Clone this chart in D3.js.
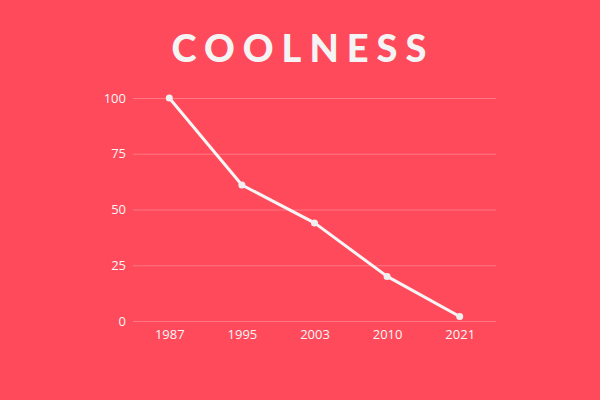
<!DOCTYPE html>
<html><head><meta charset="utf-8">
<script src="https://cdn.jsdelivr.net/npm/d3@7"></script>
<style>html,body{margin:0;padding:0;background:#FF4A5B;}</style>
</head><body>
<svg id="c" width="600" height="400"></svg>
<script>
const years = ["1987","1995","2003","2010","2021"];
const coolness = [100, 61, 44, 20, 2];
const yTicks = [0, 25, 50, 75, 100];
const title = "COOLNESS";

(function(){
const svg = d3.select("#c");
svg.append("rect").attr("width",600).attr("height",400).attr("fill","#FF4A5B");
const mLeft = 133, mRight = 496, mTop = 98, mBottom = 321;
const x = d3.scalePoint().domain(years).range([mLeft,mRight]).padding(0.5);
const y = d3.scaleLinear().domain([0,100]).range([mBottom,mTop]);

svg.append("text").attr("x",303).attr("y",62).attr("text-anchor","middle")
  .attr("font-family","Lato").attr("font-weight",900).attr("font-size",38)
  .attr("letter-spacing",8).attr("fill","#F4F4F4").text(title);

const ya = svg.append("g").attr("transform",`translate(${mLeft},0)`)
  .call(d3.axisLeft(y).tickValues(yTicks).tickSize(-(mRight-mLeft)).tickPadding(7));
ya.select(".domain").remove();
ya.selectAll("line").attr("stroke","rgba(255,255,255,0.25)").attr("stroke-width",1);
ya.selectAll("text").attr("font-family","Open Sans").attr("font-size",13).attr("fill","#F6F6F6");

const xa = svg.append("g").attr("transform",`translate(0,${mBottom})`)
  .call(d3.axisBottom(x).tickSize(0).tickPadding(9));
xa.select(".domain").remove();
xa.selectAll("text").attr("font-family","Open Sans").attr("font-size",13).attr("fill","#F6F6F6");

const data = years.map((yr,i)=>({yr, v: coolness[i]}));
svg.append("path").datum(data)
  .attr("d", d3.line().x(d=>x(d.yr)).y(d=>y(d.v)))
  .attr("fill","none").attr("stroke","#F6F6F6").attr("stroke-width",3).attr("stroke-linejoin","round");
svg.selectAll("circle.pt").data(data).join("circle").attr("class","pt")
  .attr("cx",d=>x(d.yr)).attr("cy",d=>y(d.v)).attr("r",3.5).attr("fill","#F0F0F0");
})();
</script>
</body></html>
